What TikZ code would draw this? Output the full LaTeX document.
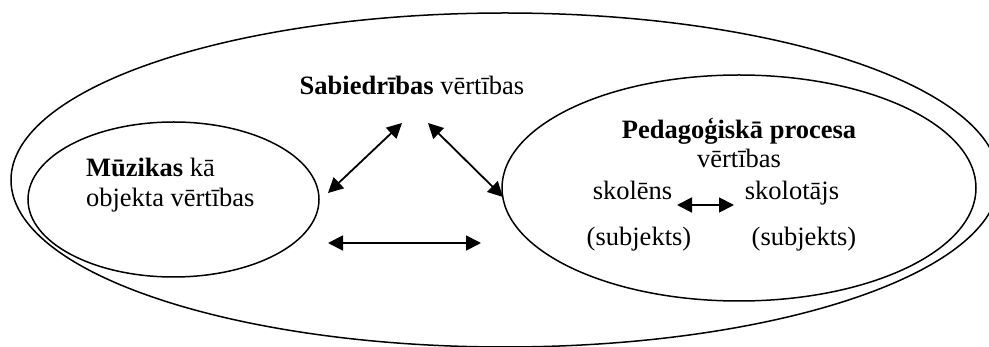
\documentclass[tikz,border=0pt]{standalone}
\usepackage{fontspec}
\setmainfont{Liberation Serif}
\usetikzlibrary{arrows.meta,shapes.geometric}
\begin{document}
\begin{tikzpicture}[x=1pt,y=-1pt,
  ring/.style={draw, ellipse, line width=1.5pt, inner sep=0pt, outer sep=0pt},
  lbl/.style={inner sep=0pt, outer sep=0pt, font=\fontsize{26.5}{30}\selectfont},
  dbl/.style={{Triangle[length=15pt,width=15pt]}-{Triangle[length=15pt,width=15pt]}, line width=1.8pt}]
\useasboundingbox (0,0) rectangle (989,347);
% ellipses
\node[ring, minimum width=988pt, minimum height=334pt] (outer) at (505,180) {};
\node[ring, minimum width=291pt, minimum height=155pt] (muz) at (173.5,199.5) {};
\node[ring, minimum width=474pt, minimum height=226pt] (ped) at (739,188) {};
% texts
\node[lbl, anchor=base] (sab) at (412,95) {\textbf{Sabiedrības} vērtības};
\node[lbl, anchor=base west] (muz1) at (86,177) {\textbf{Mūzikas} kā};
\node[lbl, anchor=base west] (muz2) at (86,207) {objekta vērtības};
\node[lbl, anchor=base] (ped1) at (739,139) {\textbf{Pedagoģiskā procesa}};
\node[lbl, anchor=base] (ped2) at (739,168) {vērtības};
\node[lbl, anchor=base] (sko) at (632.5,200) {skolēns};
\node[lbl, anchor=base] (skt) at (792,200) {skolotājs};
\node[lbl, anchor=base] (sub1) at (639,246) {(subjekts)};
\node[lbl, anchor=base] (sub2) at (804,246) {(subjekts)};
% arrow ends
\coordinate (a1) at (328,193); \coordinate (a2) at (402,123);
\coordinate (b1) at (428,123); \coordinate (b2) at (503,197);
\coordinate (c1) at (328,243); \coordinate (c2) at (481,243);
\coordinate (d1) at (677,205); \coordinate (d2) at (734,205);
\draw[dbl] (a1) -- (a2);
\draw[dbl] (b1) -- (b2);
\draw[dbl] (c1) -- (c2);
\draw[dbl] (d1) -- (d2);
\end{tikzpicture}
\end{document}
